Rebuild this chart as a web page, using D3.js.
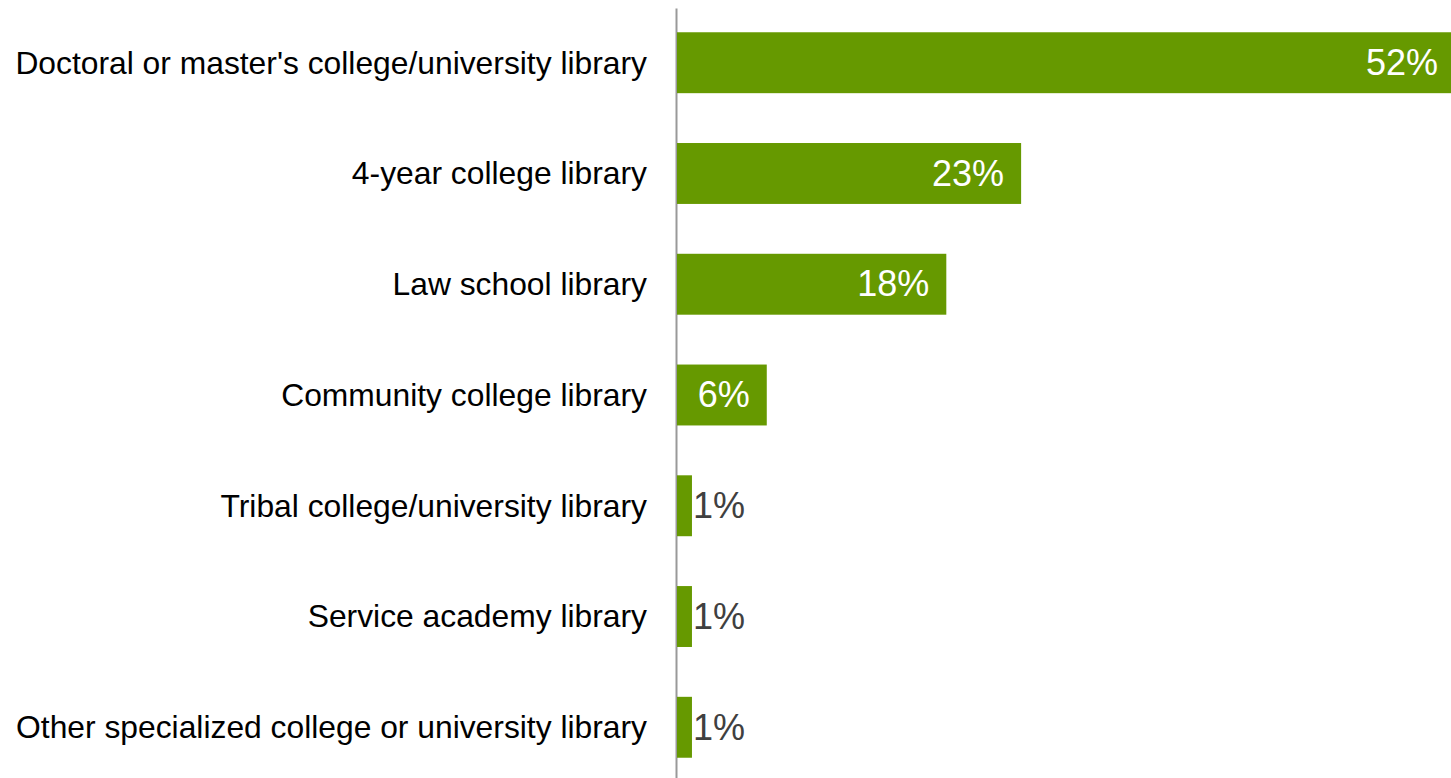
<!DOCTYPE html>
<html>
<head>
<meta charset="utf-8">
<script src="https://cdn.jsdelivr.net/npm/d3@7"></script>
<style>
  html, body { margin: 0; padding: 0; background: #fff; }
  svg { display: block; }
</style>
</head>
<body>
<svg id="chart" width="1451" height="778"></svg>
<script>
// Library types and share of respondents (%)
const categories = [
  "Doctoral or master's college/university library",
  "4-year college library",
  "Law school library",
  "Community college library",
  "Tribal college/university library",
  "Service academy library",
  "Other specialized college or university library"
];
const shares = [52, 23, 18, 6, 1, 1, 1];

const data = categories.map((c, i) => ({ category: c, value: shares[i] }));

const width = 1451, height = 778;
const axisX = 676;
const svg = d3.select("#chart");

const y = d3.scaleBand()
  .domain(categories)
  .range([8, 782])
  .paddingInner(0.45)
  .paddingOuter(0.219);

const x = d3.scaleLinear()
  .domain([0, 52])
  .range([axisX + 1, axisX + 1 + 778]);

// Category axis on the left
const yAxis = d3.axisLeft(y).tickSize(0).tickPadding(29);
const gAxis = svg.append("g")
  .attr("transform", `translate(${axisX},0)`)
  .call(yAxis);
gAxis.select(".domain")
  .attr("stroke", "#999")
  .attr("stroke-width", 2);
gAxis.selectAll(".tick text")
  .attr("fill", "#000")
  .attr("dy", "0.34em")
  .style("font-family", "'Liberation Sans', Arial, sans-serif")
  .style("font-size", "31.8px");

// Bars
svg.append("g").selectAll("rect")
  .data(data)
  .join("rect")
  .attr("x", x(0))
  .attr("y", d => y(d.category))
  .attr("width", d => x(d.value) - x(0))
  .attr("height", y.bandwidth())
  .attr("fill", "#669900");

// Value labels: inside the bar when it is wide enough, otherwise just outside
const fmt = v => v + "%";
svg.append("g").selectAll("text")
  .data(data)
  .join("text")
  .attr("y", d => y(d.category) + y.bandwidth() / 2)
  .attr("dy", "0.34em")
  .style("font-family", "'Liberation Sans', Arial, sans-serif")
  .style("font-size", "36px")
  .each(function (d) {
    const t = d3.select(this);
    if (d.value >= 5) {
      t.attr("x", x(d.value) - 17)
        .attr("text-anchor", "end")
        .attr("fill", "#fff");
    } else {
      t.attr("x", x(d.value) + 1)
        .attr("text-anchor", "start")
        .attr("fill", "#404040");
    }
  })
  .text(d => fmt(d.value));
</script>
</body>
</html>
